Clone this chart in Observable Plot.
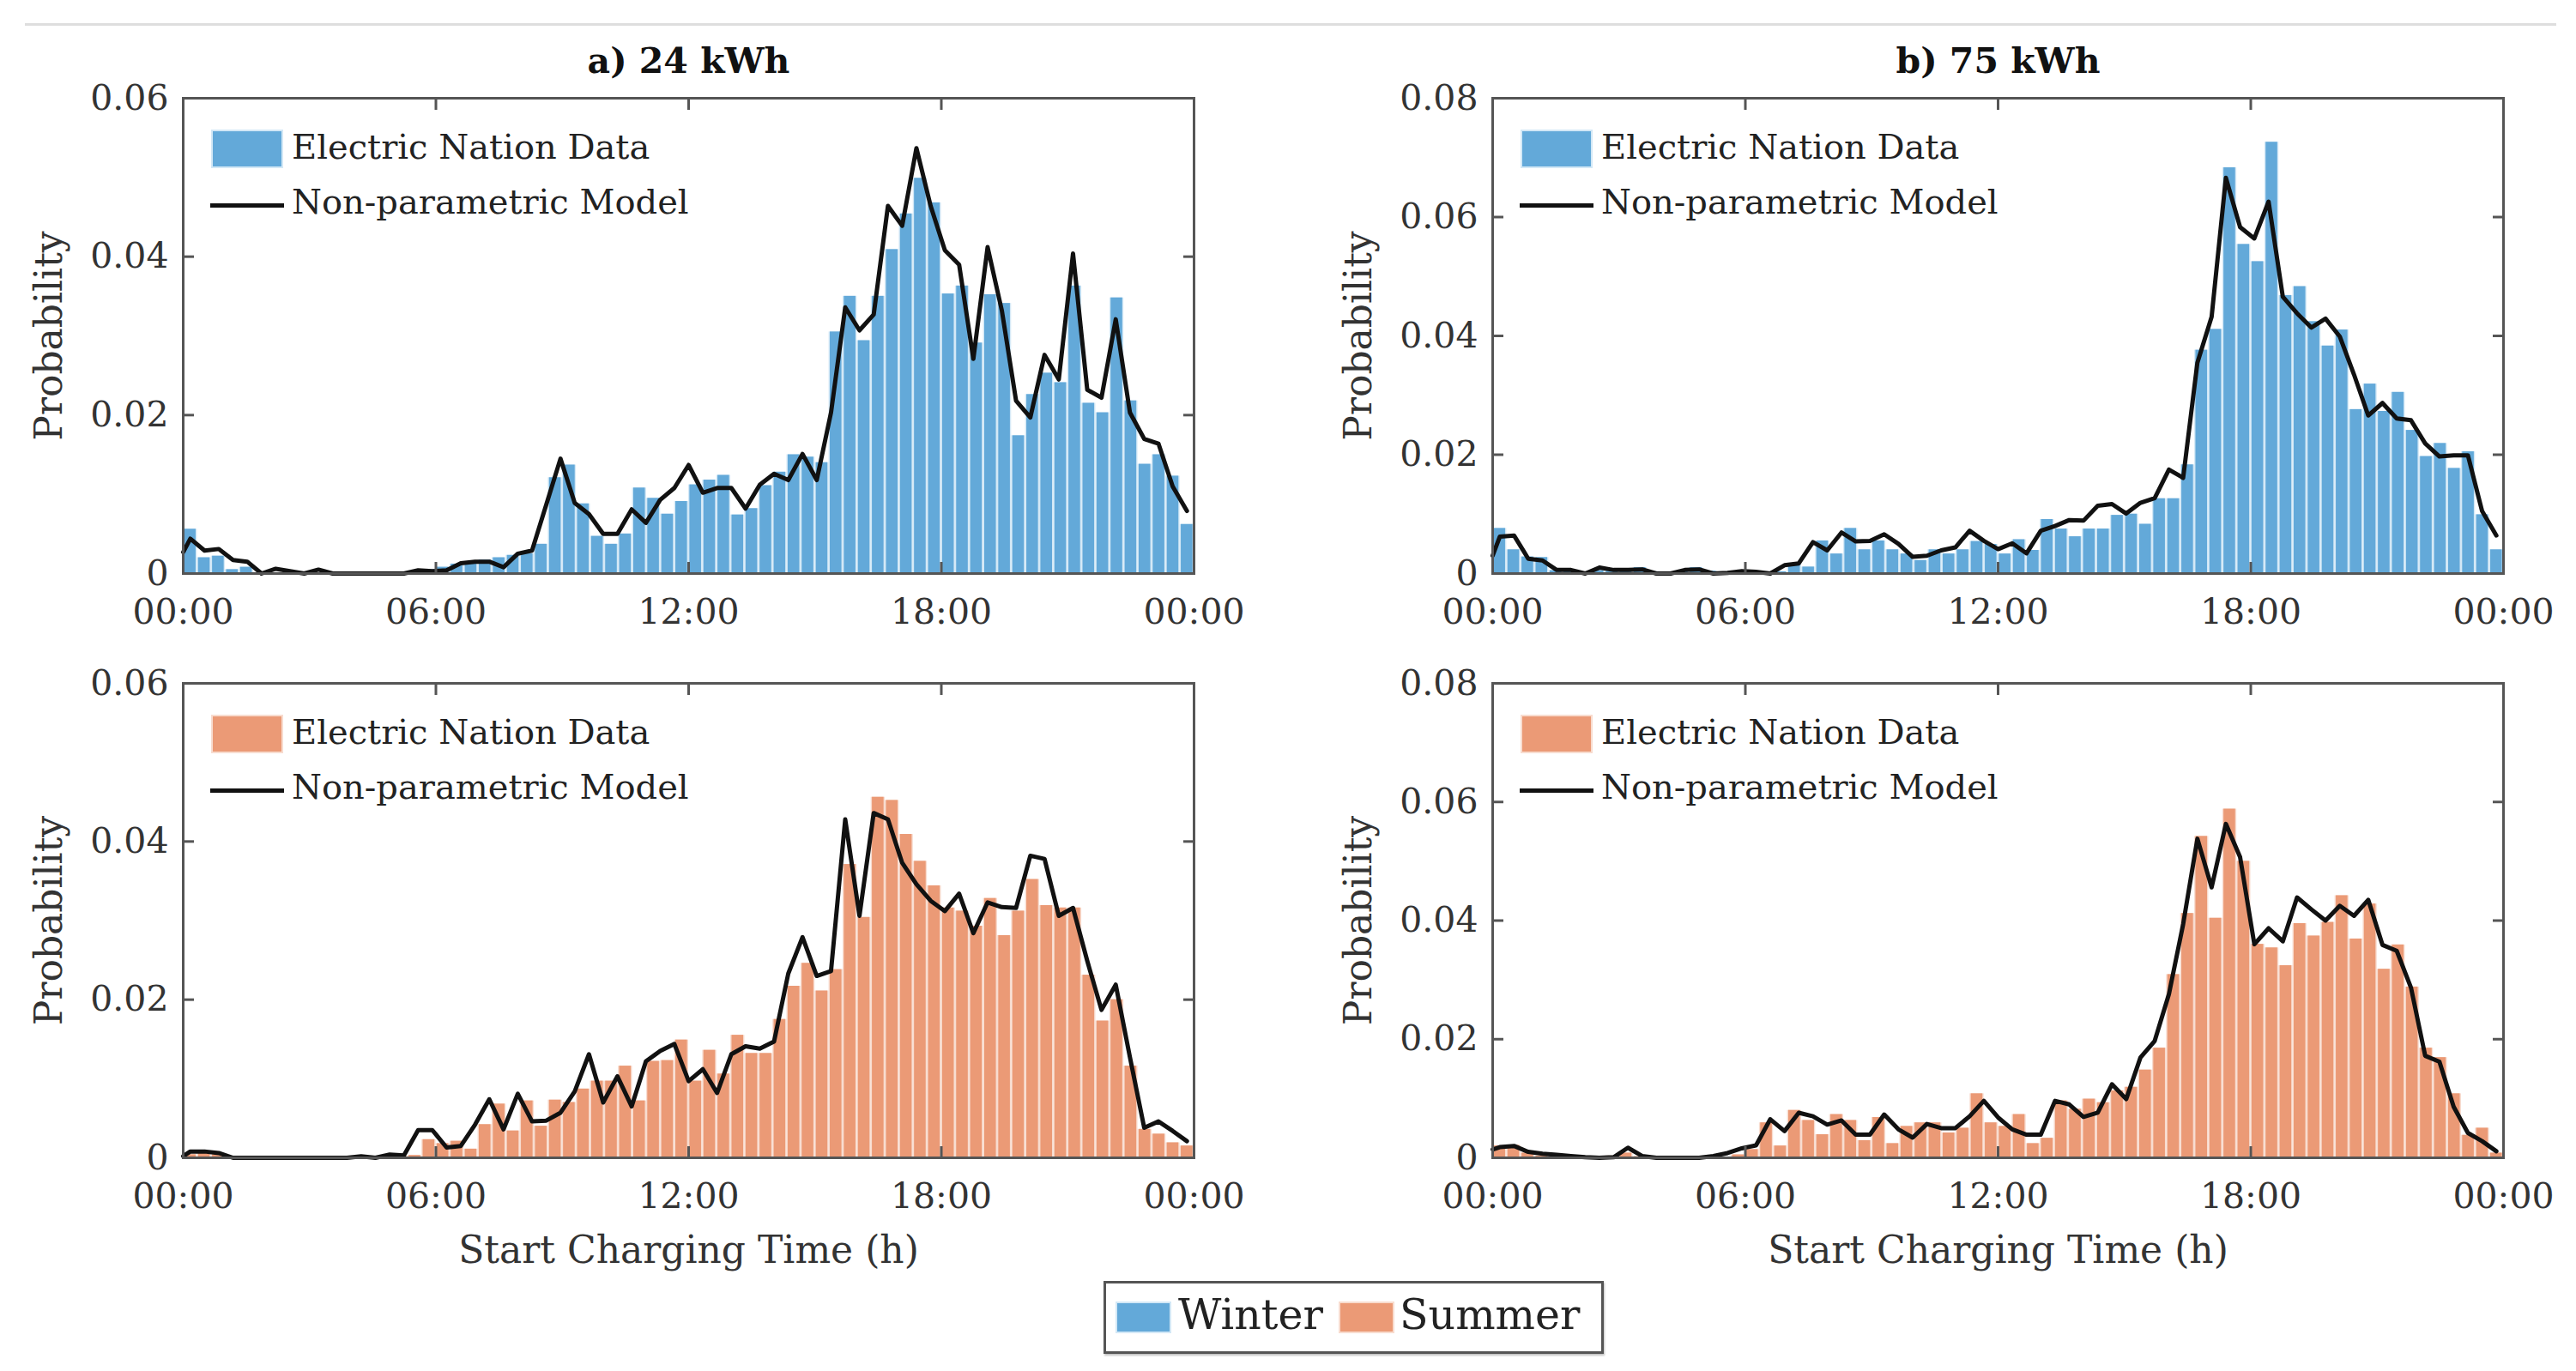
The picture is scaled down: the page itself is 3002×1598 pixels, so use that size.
<!DOCTYPE html>
<html><head><meta charset="utf-8">
<script src="https://cdn.jsdelivr.net/npm/d3@7"></script>
<script src="https://cdn.jsdelivr.net/npm/@observablehq/plot@0.6"></script>
<style>
html,body{margin:0;padding:0;background:#fff;}
#page{position:relative;width:3002px;height:1598px;overflow:hidden;font-family:"DejaVu Serif",serif;color:#222;}
.abs{position:absolute;white-space:nowrap;}
.lg{font-size:40px;line-height:40px;color:#222;}
.bl{font-size:49px;line-height:49px;color:#222;}
</style></head><body><div id="page"></div>
<script>
// ---- categories / tick labels ----
const panelTitles = ["a) 24 kWh", "b) 75 kWh"];
const xTicks = [0, 6, 12, 18, 24];
const xTickLabels = ["00:00", "06:00", "12:00", "18:00", "00:00"];
const yTicksA = [0, 0.02, 0.04, 0.06];
const yTickLabelsA = ["0", "0.02", "0.04", "0.06"];
const yTicksB = [0, 0.02, 0.04, 0.06, 0.08];
const yTickLabelsB = ["0", "0.02", "0.04", "0.06", "0.08"];
const yLabel = "Probability";
const xLabel = "Start Charging Time (h)";
const barLegend = "Electric Nation Data";
const lineLegend = "Non-parametric Model";
const seasons = ["Winter", "Summer"];

// 20-minute bins (72 per day), bin start in hours
const binStart = d3.range(72).map(i => i / 3);
const binWidth = 1 / 3;
// model curve sample times (hours): left edge, then 71 samples
const lineHours = [0, ...d3.range(71).map(k => (k + 0.5) * 24 / 71)];

// ---- values ----
const winter24Bars = [0.0056,0.0020,0.0022,0.0005,0.0008,0,0,0,0,0,
 0,0,0,0,0,0,0.0003,0.0005,0.0008,0.0012,
 0.0015,0.0017,0.0020,0.0023,0.0025,0.0037,0.0121,0.0137,0.0088,0.0047,
 0.0037,0.0050,0.0108,0.0095,0.0075,0.0091,0.0112,0.0118,0.0124,0.0074,
 0.0082,0.0111,0.0128,0.0150,0.0147,0.0140,0.0305,0.0350,0.0294,0.0350,
 0.0409,0.0454,0.0499,0.0468,0.0353,0.0363,0.0291,0.0352,0.0341,0.0174,
 0.0226,0.0253,0.0241,0.0363,0.0215,0.0203,0.0348,0.0218,0.0138,0.0150,
 0.0123,0.0062];
const winter24Line = [0.0027,0.0044,0.0029,0.0031,0.0017,0.0015,0.0000,0.0006,0.0003,0.0000,
 0.0005,0,0,0,0,0,0,0.0004,0.0003,0.0004,
 0.0013,0.0015,0.0015,0.0008,0.0025,0.0029,0.0087,0.0145,0.0089,0.0075,
 0.0050,0.0050,0.0081,0.0064,0.0093,0.0108,0.0137,0.0102,0.0108,0.0108,
 0.0082,0.0112,0.0126,0.0118,0.0151,0.0118,0.0203,0.0336,0.0307,0.0327,
 0.0464,0.0439,0.0537,0.0464,0.0408,0.0390,0.0271,0.0412,0.0332,0.0218,
 0.0197,0.0276,0.0245,0.0404,0.0232,0.0222,0.0321,0.0203,0.0170,0.0164,
 0.0110,0.0079];
const summer24Bars = [0.0004,0.0006,0.0004,0,0,0,0,0,0,0,
 0,0,0,0,0,0.0002,0.0003,0.0023,0.0018,0.0021,
 0.0011,0.0042,0.0068,0.0034,0.0072,0.0040,0.0073,0.0070,0.0087,0.0097,
 0.0097,0.0116,0.0072,0.0122,0.0123,0.0149,0.0097,0.0136,0.0106,0.0155,
 0.0132,0.0132,0.0175,0.0217,0.0246,0.0211,0.0238,0.0371,0.0304,0.0456,
 0.0452,0.0409,0.0375,0.0344,0.0316,0.0312,0.0293,0.0328,0.0281,0.0312,
 0.0352,0.0319,0.0316,0.0316,0.0231,0.0173,0.0200,0.0116,0.0036,0.0030,
 0.0019,0.0015];
const summer24Line = [0.0002,0.0008,0.0008,0.0006,0,0,0,0,0,0,
 0,0,0,0.0002,0,0.0004,0.0003,0.0035,0.0035,0.0013,
 0.0015,0.0042,0.0074,0.0036,0.0081,0.0046,0.0047,0.0057,0.0084,0.0131,
 0.0070,0.0103,0.0065,0.0122,0.0135,0.0144,0.0097,0.0112,0.0082,0.0131,
 0.0141,0.0138,0.0147,0.0233,0.0279,0.0230,0.0236,0.0428,0.0306,0.0436,
 0.0428,0.0373,0.0346,0.0325,0.0312,0.0334,0.0284,0.0323,0.0317,0.0316,
 0.0382,0.0378,0.0306,0.0316,0.0249,0.0187,0.0219,0.0127,0.0038,0.0046,
 0.0034,0.0021];
const winter75Bars = [0.0076,0.0040,0.0028,0.0027,0.0005,0.0003,0.0002,0.0005,0.0004,0.0003,
 0.0010,0.0003,0.0002,0.0003,0.0010,0.0004,0.0002,0.0002,0.0003,0.0002,
 0.0003,0.0017,0.0011,0.0055,0.0033,0.0076,0.0040,0.0055,0.0040,0.0033,
 0.0022,0.0040,0.0033,0.0040,0.0054,0.0049,0.0033,0.0057,0.0039,0.0091,
 0.0075,0.0062,0.0075,0.0075,0.0098,0.0100,0.0083,0.0126,0.0126,0.0183,
 0.0376,0.0411,0.0683,0.0554,0.0525,0.0726,0.0468,0.0483,0.0424,0.0383,
 0.0410,0.0276,0.0319,0.0273,0.0305,0.0241,0.0197,0.0219,0.0177,0.0205,
 0.0099,0.0040];
const winter75Line = [0.0030,0.0062,0.0064,0.0025,0.0022,0.0006,0.0006,0.0000,0.0010,0.0006,
 0.0006,0.0007,0,0,0.0006,0.0007,0,0.0001,0.0004,0.0003,
 0,0.0014,0.0017,0.0053,0.0039,0.0069,0.0054,0.0055,0.0066,0.0050,
 0.0028,0.0030,0.0039,0.0044,0.0072,0.0055,0.0041,0.0051,0.0034,0.0072,
 0.0080,0.0090,0.0089,0.0114,0.0117,0.0101,0.0119,0.0127,0.0175,0.0161,
 0.0355,0.0432,0.0666,0.0583,0.0564,0.0626,0.0466,0.0438,0.0414,0.0429,
 0.0399,0.0335,0.0266,0.0287,0.0261,0.0258,0.0219,0.0197,0.0199,0.0199,
 0.0105,0.0064];
const summer75Bars = [0.0020,0.0021,0.0008,0.0003,0.0003,0.0002,0.0002,0.0002,0.0003,0.0008,
 0.0002,0.0001,0.0001,0.0001,0.0001,0.0001,0.0001,0.0005,0.0014,0.0059,
 0.0020,0.0080,0.0063,0.0039,0.0073,0.0063,0.0029,0.0068,0.0024,0.0053,
 0.0059,0.0059,0.0042,0.0050,0.0108,0.0059,0.0053,0.0073,0.0024,0.0033,
 0.0096,0.0082,0.0099,0.0093,0.0113,0.0119,0.0148,0.0185,0.0309,0.0412,
 0.0542,0.0404,0.0588,0.0500,0.0360,0.0354,0.0324,0.0395,0.0374,0.0397,
 0.0442,0.0369,0.0428,0.0318,0.0359,0.0288,0.0185,0.0169,0.0108,0.0038,
 0.0050,0.0008];
const summer75Line = [0.0014,0.0018,0.0020,0.0010,0.0007,0.0005,0.0003,0.0001,0,0.0001,
 0.0017,0.0003,0,0,0,0,0.0003,0.0008,0.0016,0.0021,
 0.0065,0.0045,0.0076,0.0070,0.0056,0.0063,0.0039,0.0039,0.0073,0.0048,
 0.0034,0.0057,0.0050,0.0050,0.0070,0.0096,0.0068,0.0048,0.0039,0.0039,
 0.0096,0.0090,0.0069,0.0076,0.0124,0.0099,0.0169,0.0197,0.0276,0.0394,
 0.0538,0.0456,0.0563,0.0507,0.0360,0.0387,0.0365,0.0439,0.0419,0.0400,
 0.0425,0.0408,0.0435,0.0359,0.0349,0.0287,0.0172,0.0162,0.0086,0.0042,
 0.0028,0.0011];

// ---- styles ----
const colors = {Winter: "#63a9d9", Summer: "#eb9a76"};
const paleColors = {Winter: "#d3e8f6", Summer: "#f8dccf"};
const FONT = "DejaVu Serif";
const frameColor = "#555";

const page = document.getElementById("page");

// top rule
const rule = document.createElement("div");
rule.className = "abs";
Object.assign(rule.style, {left: "29px", top: "27px", width: "2950px", height: "3px", background: "#dedede"});
page.appendChild(rule);

const PW = 1178, ML = 213, MR = 24;

function panel(cfg) {
  const barData = cfg.bars.map((v, i) => ({x1: binStart[i], x2: binStart[i] + binWidth, y: v}));
  const lineData = cfg.line.map((v, j) => ({x: lineHours[j], y: v}));
  const marginTop = cfg.top ? 90 : 20;
  const marginBottom = cfg.top ? 90 : 160;
  const ph = cfg.top ? 554 : 553;
  const marks = [
    Plot.rectY(barData, {x1: "x1", x2: "x2", y: "y", fill: paleColors[cfg.season]}),
    Plot.rectY(barData, {x1: "x1", x2: "x2", y: "y", fill: colors[cfg.season], insetLeft: 1.4, insetRight: 1.4}),
    Plot.line(lineData, {x: "x", y: "y", stroke: "#111", strokeWidth: 5, strokeLinejoin: "round"}),
    Plot.frame({stroke: frameColor, strokeWidth: 3}),
    Plot.axisX({anchor: "bottom", ticks: xTicks, tickFormat: d => xTickLabels[xTicks.indexOf(d)],
      tickSize: -13, tickPadding: 42, stroke: frameColor, strokeWidth: 3, fill: "#333", fontSize: 41, label: null}),
    Plot.axisX({anchor: "top", ticks: xTicks, tickFormat: () => "", tickSize: -13, stroke: frameColor, strokeWidth: 3, label: null}),
    Plot.axisY({anchor: "left", ticks: cfg.yTicks, tickFormat: d => cfg.yTickLabels[cfg.yTicks.indexOf(d)],
      tickSize: -13, tickPadding: 30, stroke: frameColor, strokeWidth: 3, fill: "#333", fontSize: 41, label: null}),
    Plot.axisY({anchor: "right", ticks: cfg.yTicks, tickFormat: () => "", tickSize: -13, stroke: frameColor, strokeWidth: 3, label: null}),
    Plot.text([yLabel], {text: d => d, frameAnchor: "left", textAnchor: "middle", lineAnchor: "middle", dx: -156, rotate: -90, fontSize: 44, fill: "#333"})
  ];
  if (cfg.top) marks.push(Plot.text([cfg.title], {text: d => d, frameAnchor: "top", dy: -30, lineAnchor: "bottom", fontSize: 41, fontWeight: "bold", fill: "#111"}));
  else marks.push(Plot.text([xLabel], {text: d => d, frameAnchor: "bottom", dy: 122, fontSize: 44, fill: "#333"}));
  const svg = Plot.plot({
    width: ML + PW + MR, height: marginTop + ph + marginBottom,
    marginLeft: ML, marginRight: MR, marginTop, marginBottom,
    x: {type: "linear", domain: [0, 24]},
    y: {domain: [0, cfg.yMax]},
    style: {fontFamily: FONT, fontSize: "41px", background: "transparent", overflow: "visible"},
    marks
  });
  const wrap = document.createElement("div");
  wrap.className = "abs";
  wrap.style.left = cfg.left + "px";
  wrap.style.top = (cfg.frameTop - marginTop) + "px";
  wrap.appendChild(svg);
  page.appendChild(wrap);

  // inner legend (HTML), positioned relative to plot frame
  const fx = cfg.left + ML, fy = cfg.frameTop;
  const sw = document.createElement("div");
  sw.className = "abs";
  Object.assign(sw.style, {left: (fx + 33) + "px", top: (fy + 37) + "px", width: "80px", height: "41px",
    background: colors[cfg.season], border: "2px solid " + paleColors[cfg.season]});
  page.appendChild(sw);
  const t1 = document.createElement("div");
  t1.className = "abs lg"; t1.textContent = barLegend;
  Object.assign(t1.style, {left: (fx + 127) + "px", top: (fy + 37) + "px"});
  page.appendChild(t1);
  const ln = document.createElement("div");
  ln.className = "abs";
  Object.assign(ln.style, {left: (fx + 32) + "px", top: (fy + 123) + "px", width: "86px", height: "5px", background: "#111"});
  page.appendChild(ln);
  const t2 = document.createElement("div");
  t2.className = "abs lg"; t2.textContent = lineLegend;
  Object.assign(t2.style, {left: (fx + 127) + "px", top: (fy + 101) + "px"});
  page.appendChild(t2);
}

panel({top: true, title: panelTitles[0], season: "Winter", bars: winter24Bars, line: winter24Line, yMax: 0.06, yTicks: yTicksA, yTickLabels: yTickLabelsA, left: 0, frameTop: 114});
panel({top: true, title: panelTitles[1], season: "Winter", bars: winter75Bars, line: winter75Line, yMax: 0.08, yTicks: yTicksB, yTickLabels: yTickLabelsB, left: 1526, frameTop: 114});
panel({top: false, season: "Summer", bars: summer24Bars, line: summer24Line, yMax: 0.06, yTicks: yTicksA, yTickLabels: yTickLabelsA, left: 0, frameTop: 796});
panel({top: false, season: "Summer", bars: summer75Bars, line: summer75Line, yMax: 0.08, yTicks: yTicksB, yTickLabels: yTickLabelsB, left: 1526, frameTop: 796});

// bottom season legend
const box = document.createElement("div");
box.className = "abs";
Object.assign(box.style, {left: "1286px", top: "1493px", width: "577px", height: "79px", border: "3px solid #555", background: "#fff", boxShadow: "1px 2px 2px rgba(0,0,0,0.25)"});
page.appendChild(box);
[[seasons[0], 1300, 1373], [seasons[1], 1560, 1631]].forEach(([name, sx, tx]) => {
  const s = document.createElement("div");
  s.className = "abs";
  Object.assign(s.style, {left: sx + "px", top: "1517px", width: "61px", height: "33px", background: colors[name], border: "2px solid " + paleColors[name]});
  page.appendChild(s);
  const t = document.createElement("div");
  t.className = "abs bl"; t.textContent = name;
  Object.assign(t.style, {left: tx + "px", top: "1508px"});
  page.appendChild(t);
});
</script></body></html>
